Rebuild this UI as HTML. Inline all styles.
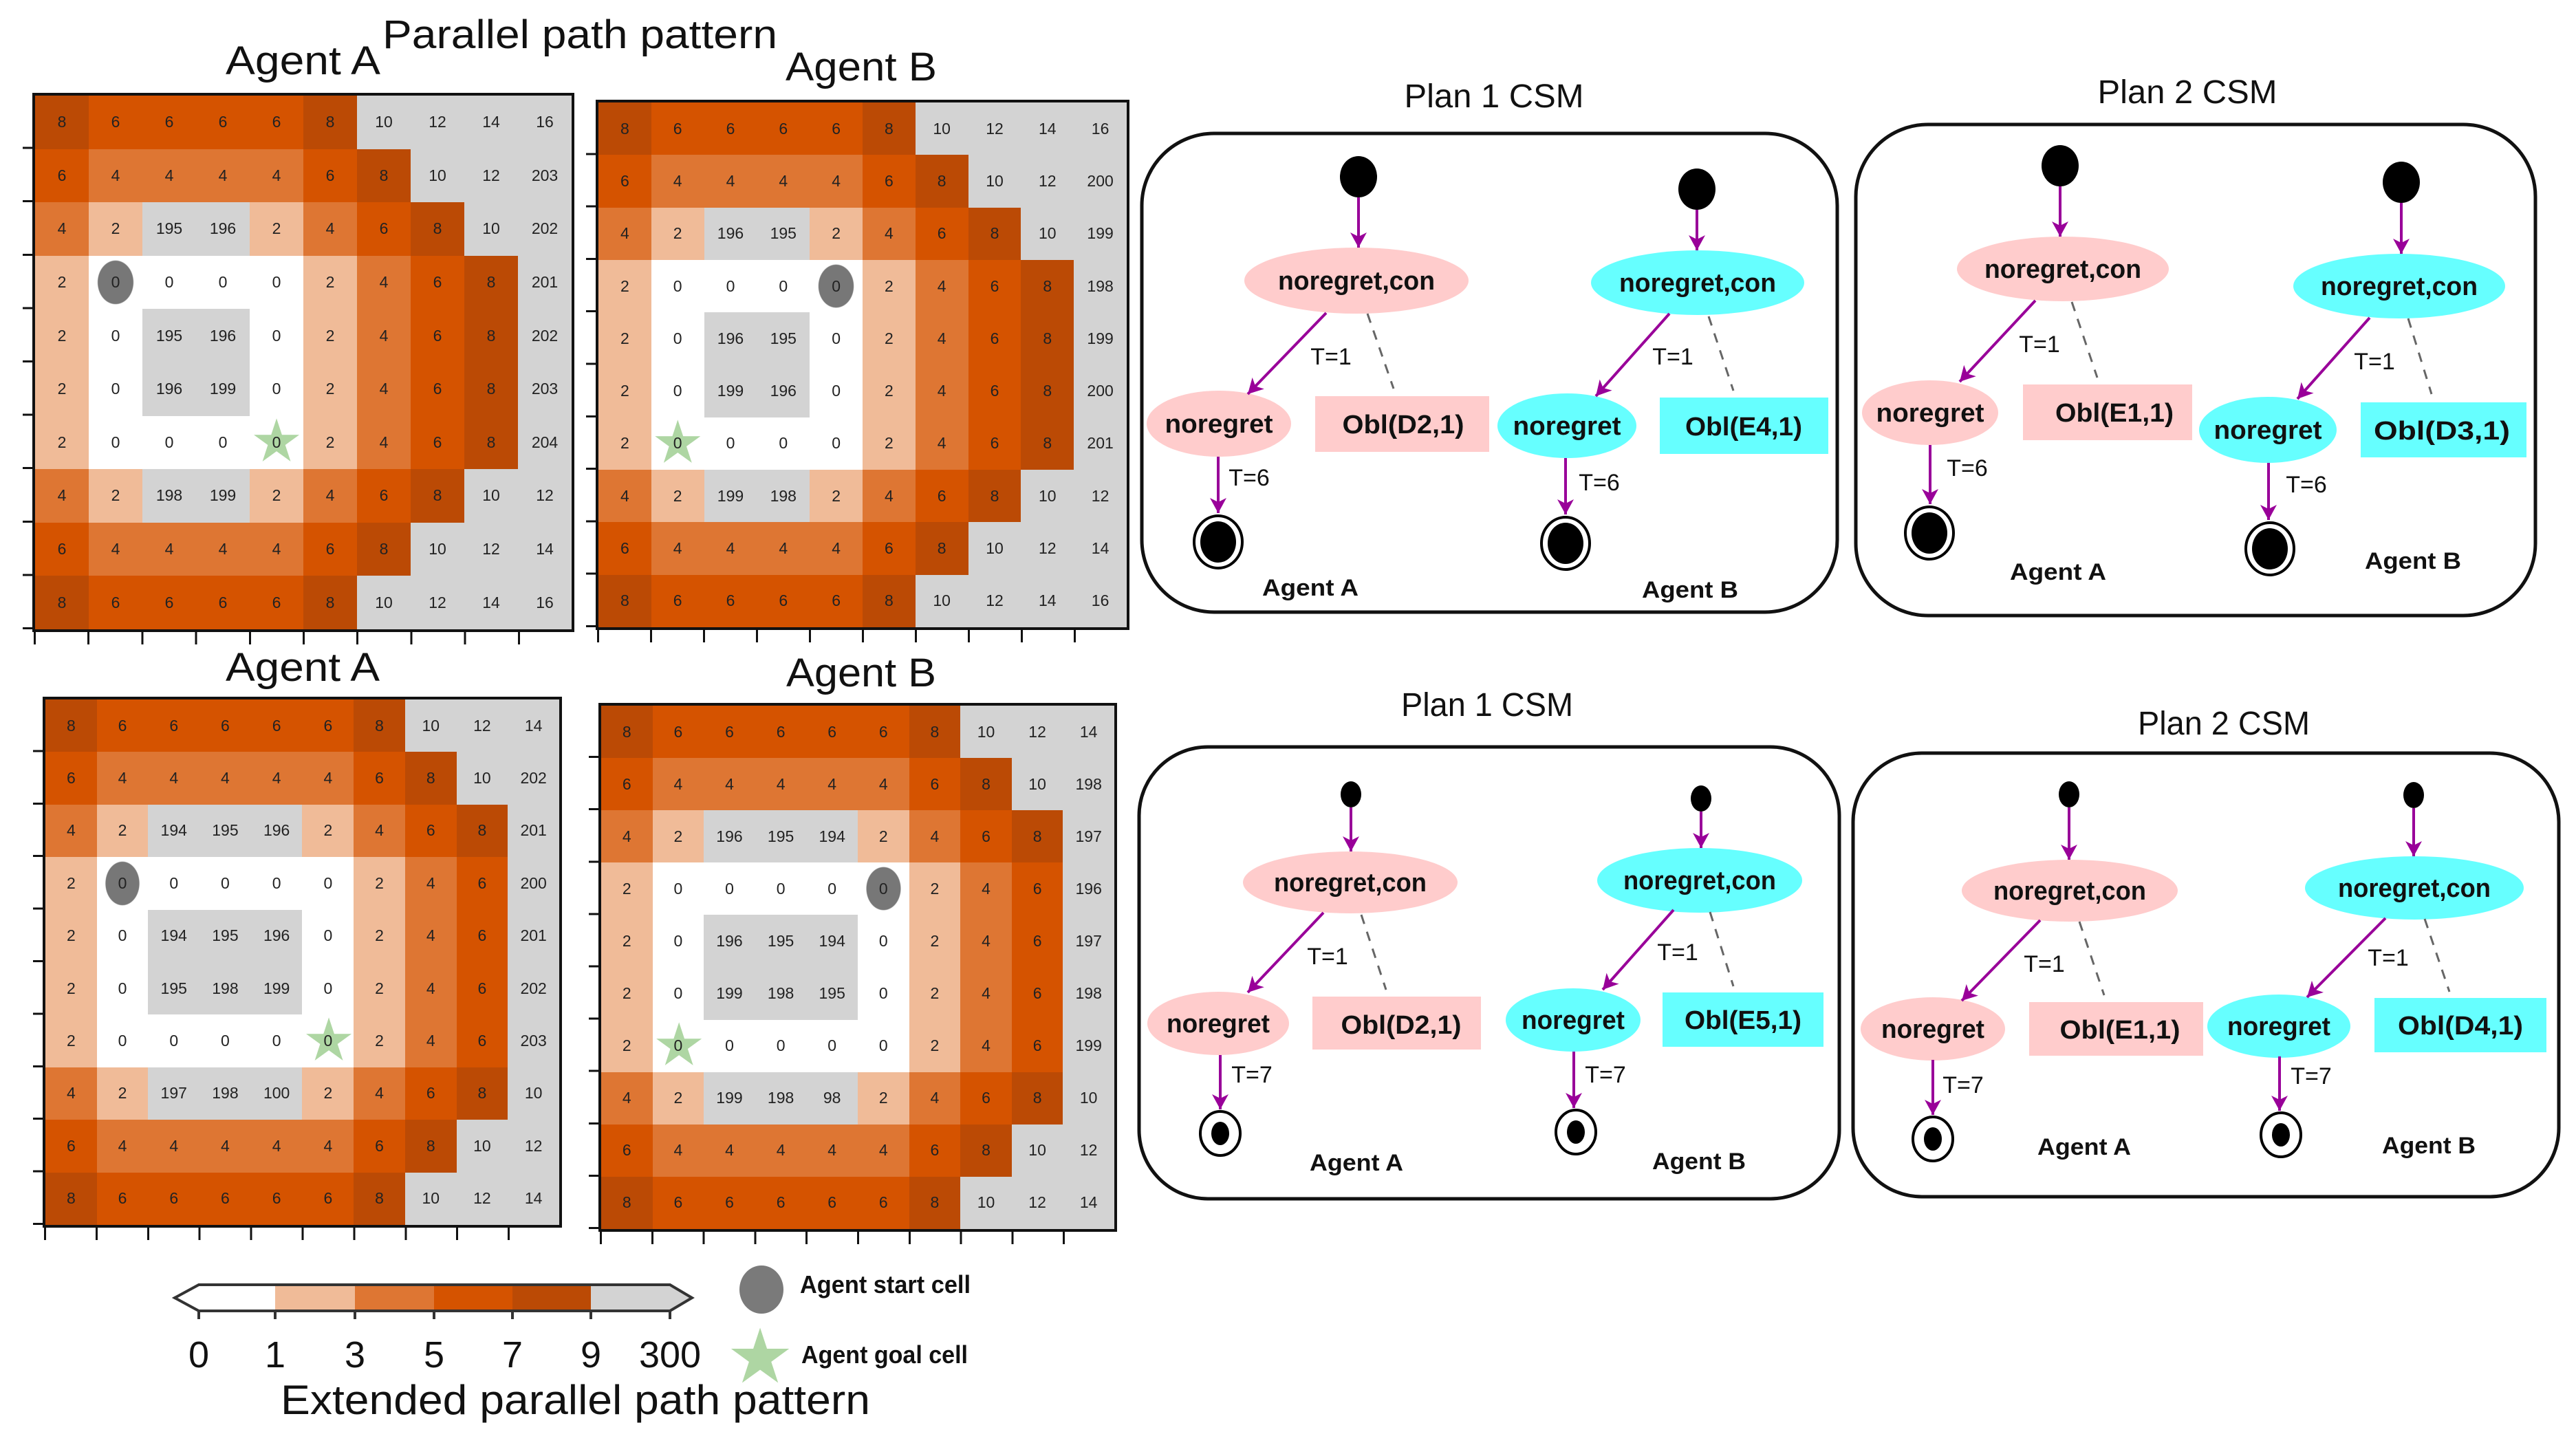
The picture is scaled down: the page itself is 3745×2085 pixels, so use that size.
<!DOCTYPE html>
<html><head><meta charset="utf-8"><style>
html,body{margin:0;padding:0;background:#fff}
body{width:3745px;height:2085px;position:relative;overflow:hidden;font-family:"Liberation Sans",sans-serif}
.g{position:absolute;display:grid;grid-template-columns:repeat(10,1fr);grid-template-rows:repeat(10,1fr);outline:4px solid #111}
.g i{font-style:normal;display:flex;align-items:center;justify-content:center;font-size:23px;color:#222;position:relative;isolation:isolate}
.a{background:#bb4a05}.b{background:#d55300}.c{background:#de7633}.d{background:#f0bb98}.e{background:#fff}.x{background:#d3d3d3}
.s{background:radial-gradient(ellipse 34% 42% at 50% 50%,#777 96%,#fff 100%)}
.t::before{content:"\2605";position:absolute;left:0;right:0;top:50%;transform:translateY(-52%);text-align:center;font-size:86px;line-height:1;color:#aed6a3;z-index:-1;font-family:"DejaVu Sans",sans-serif}
.tl{position:absolute;width:14px;left:-18px;top:0;bottom:0;background:repeating-linear-gradient(to bottom,transparent 0,transparent calc(10% - 3px),#111 calc(10% - 3px),#111 10%)}
.tb{position:absolute;height:18px;left:-2px;right:0;bottom:-22px;background:repeating-linear-gradient(to right,#111 0,#111 3px,transparent 3px,transparent 10%)}
svg{position:absolute;left:0;top:0}
</style></head><body>

<div class="g" style="left:51px;top:139px;width:780px;height:776px">
<i class=a>8</i><i class=b>6</i><i class=b>6</i><i class=b>6</i><i class=b>6</i><i class=a>8</i><i class=x>10</i><i class=x>12</i><i class=x>14</i><i class=x>16</i>
<i class=b>6</i><i class=c>4</i><i class=c>4</i><i class=c>4</i><i class=c>4</i><i class=b>6</i><i class=a>8</i><i class=x>10</i><i class=x>12</i><i class=x>203</i>
<i class=c>4</i><i class=d>2</i><i class=x>195</i><i class=x>196</i><i class=d>2</i><i class=c>4</i><i class=b>6</i><i class=a>8</i><i class=x>10</i><i class=x>202</i>
<i class=d>2</i><i class=s>0</i><i class=e>0</i><i class=e>0</i><i class=e>0</i><i class=d>2</i><i class=c>4</i><i class=b>6</i><i class=a>8</i><i class=x>201</i>
<i class=d>2</i><i class=e>0</i><i class=x>195</i><i class=x>196</i><i class=e>0</i><i class=d>2</i><i class=c>4</i><i class=b>6</i><i class=a>8</i><i class=x>202</i>
<i class=d>2</i><i class=e>0</i><i class=x>196</i><i class=x>199</i><i class=e>0</i><i class=d>2</i><i class=c>4</i><i class=b>6</i><i class=a>8</i><i class=x>203</i>
<i class=d>2</i><i class=e>0</i><i class=e>0</i><i class=e>0</i><i class="e t">0</i><i class=d>2</i><i class=c>4</i><i class=b>6</i><i class=a>8</i><i class=x>204</i>
<i class=c>4</i><i class=d>2</i><i class=x>198</i><i class=x>199</i><i class=d>2</i><i class=c>4</i><i class=b>6</i><i class=a>8</i><i class=x>10</i><i class=x>12</i>
<i class=b>6</i><i class=c>4</i><i class=c>4</i><i class=c>4</i><i class=c>4</i><i class=b>6</i><i class=a>8</i><i class=x>10</i><i class=x>12</i><i class=x>14</i>
<i class=a>8</i><i class=b>6</i><i class=b>6</i><i class=b>6</i><i class=b>6</i><i class=a>8</i><i class=x>10</i><i class=x>12</i><i class=x>14</i><i class=x>16</i>
<span class=tl></span><span class=tb></span></div>

<div class="g" style="left:870px;top:149px;width:768px;height:763px">
<i class=a>8</i><i class=b>6</i><i class=b>6</i><i class=b>6</i><i class=b>6</i><i class=a>8</i><i class=x>10</i><i class=x>12</i><i class=x>14</i><i class=x>16</i>
<i class=b>6</i><i class=c>4</i><i class=c>4</i><i class=c>4</i><i class=c>4</i><i class=b>6</i><i class=a>8</i><i class=x>10</i><i class=x>12</i><i class=x>200</i>
<i class=c>4</i><i class=d>2</i><i class=x>196</i><i class=x>195</i><i class=d>2</i><i class=c>4</i><i class=b>6</i><i class=a>8</i><i class=x>10</i><i class=x>199</i>
<i class=d>2</i><i class=e>0</i><i class=e>0</i><i class=e>0</i><i class=s>0</i><i class=d>2</i><i class=c>4</i><i class=b>6</i><i class=a>8</i><i class=x>198</i>
<i class=d>2</i><i class=e>0</i><i class=x>196</i><i class=x>195</i><i class=e>0</i><i class=d>2</i><i class=c>4</i><i class=b>6</i><i class=a>8</i><i class=x>199</i>
<i class=d>2</i><i class=e>0</i><i class=x>199</i><i class=x>196</i><i class=e>0</i><i class=d>2</i><i class=c>4</i><i class=b>6</i><i class=a>8</i><i class=x>200</i>
<i class=d>2</i><i class="e t">0</i><i class=e>0</i><i class=e>0</i><i class=e>0</i><i class=d>2</i><i class=c>4</i><i class=b>6</i><i class=a>8</i><i class=x>201</i>
<i class=c>4</i><i class=d>2</i><i class=x>199</i><i class=x>198</i><i class=d>2</i><i class=c>4</i><i class=b>6</i><i class=a>8</i><i class=x>10</i><i class=x>12</i>
<i class=b>6</i><i class=c>4</i><i class=c>4</i><i class=c>4</i><i class=c>4</i><i class=b>6</i><i class=a>8</i><i class=x>10</i><i class=x>12</i><i class=x>14</i>
<i class=a>8</i><i class=b>6</i><i class=b>6</i><i class=b>6</i><i class=b>6</i><i class=a>8</i><i class=x>10</i><i class=x>12</i><i class=x>14</i><i class=x>16</i>
<span class=tl></span><span class=tb></span></div>

<div class="g" style="left:66px;top:1017px;width:747px;height:764px">
<i class=a>8</i><i class=b>6</i><i class=b>6</i><i class=b>6</i><i class=b>6</i><i class=b>6</i><i class=a>8</i><i class=x>10</i><i class=x>12</i><i class=x>14</i>
<i class=b>6</i><i class=c>4</i><i class=c>4</i><i class=c>4</i><i class=c>4</i><i class=c>4</i><i class=b>6</i><i class=a>8</i><i class=x>10</i><i class=x>202</i>
<i class=c>4</i><i class=d>2</i><i class=x>194</i><i class=x>195</i><i class=x>196</i><i class=d>2</i><i class=c>4</i><i class=b>6</i><i class=a>8</i><i class=x>201</i>
<i class=d>2</i><i class=s>0</i><i class=e>0</i><i class=e>0</i><i class=e>0</i><i class=e>0</i><i class=d>2</i><i class=c>4</i><i class=b>6</i><i class=x>200</i>
<i class=d>2</i><i class=e>0</i><i class=x>194</i><i class=x>195</i><i class=x>196</i><i class=e>0</i><i class=d>2</i><i class=c>4</i><i class=b>6</i><i class=x>201</i>
<i class=d>2</i><i class=e>0</i><i class=x>195</i><i class=x>198</i><i class=x>199</i><i class=e>0</i><i class=d>2</i><i class=c>4</i><i class=b>6</i><i class=x>202</i>
<i class=d>2</i><i class=e>0</i><i class=e>0</i><i class=e>0</i><i class=e>0</i><i class="e t">0</i><i class=d>2</i><i class=c>4</i><i class=b>6</i><i class=x>203</i>
<i class=c>4</i><i class=d>2</i><i class=x>197</i><i class=x>198</i><i class=x>100</i><i class=d>2</i><i class=c>4</i><i class=b>6</i><i class=a>8</i><i class=x>10</i>
<i class=b>6</i><i class=c>4</i><i class=c>4</i><i class=c>4</i><i class=c>4</i><i class=c>4</i><i class=b>6</i><i class=a>8</i><i class=x>10</i><i class=x>12</i>
<i class=a>8</i><i class=b>6</i><i class=b>6</i><i class=b>6</i><i class=b>6</i><i class=b>6</i><i class=a>8</i><i class=x>10</i><i class=x>12</i><i class=x>14</i>
<span class=tl></span><span class=tb></span></div>

<div class="g" style="left:874px;top:1026px;width:746px;height:761px">
<i class=a>8</i><i class=b>6</i><i class=b>6</i><i class=b>6</i><i class=b>6</i><i class=b>6</i><i class=a>8</i><i class=x>10</i><i class=x>12</i><i class=x>14</i>
<i class=b>6</i><i class=c>4</i><i class=c>4</i><i class=c>4</i><i class=c>4</i><i class=c>4</i><i class=b>6</i><i class=a>8</i><i class=x>10</i><i class=x>198</i>
<i class=c>4</i><i class=d>2</i><i class=x>196</i><i class=x>195</i><i class=x>194</i><i class=d>2</i><i class=c>4</i><i class=b>6</i><i class=a>8</i><i class=x>197</i>
<i class=d>2</i><i class=e>0</i><i class=e>0</i><i class=e>0</i><i class=e>0</i><i class=s>0</i><i class=d>2</i><i class=c>4</i><i class=b>6</i><i class=x>196</i>
<i class=d>2</i><i class=e>0</i><i class=x>196</i><i class=x>195</i><i class=x>194</i><i class=e>0</i><i class=d>2</i><i class=c>4</i><i class=b>6</i><i class=x>197</i>
<i class=d>2</i><i class=e>0</i><i class=x>199</i><i class=x>198</i><i class=x>195</i><i class=e>0</i><i class=d>2</i><i class=c>4</i><i class=b>6</i><i class=x>198</i>
<i class=d>2</i><i class="e t">0</i><i class=e>0</i><i class=e>0</i><i class=e>0</i><i class=e>0</i><i class=d>2</i><i class=c>4</i><i class=b>6</i><i class=x>199</i>
<i class=c>4</i><i class=d>2</i><i class=x>199</i><i class=x>198</i><i class=x>98</i><i class=d>2</i><i class=c>4</i><i class=b>6</i><i class=a>8</i><i class=x>10</i>
<i class=b>6</i><i class=c>4</i><i class=c>4</i><i class=c>4</i><i class=c>4</i><i class=c>4</i><i class=b>6</i><i class=a>8</i><i class=x>10</i><i class=x>12</i>
<i class=a>8</i><i class=b>6</i><i class=b>6</i><i class=b>6</i><i class=b>6</i><i class=b>6</i><i class=a>8</i><i class=x>10</i><i class=x>12</i><i class=x>14</i>
<span class=tl></span><span class=tb></span></div>

<svg width="3745" height="2085" viewBox="0 0 3745 2085" style="pointer-events:none">
<defs>
<marker id="ar" markerUnits="userSpaceOnUse" markerWidth="22" markerHeight="26" refX="22" refY="13" orient="auto">
<path d="M0,1 L22,13 L0,25 L6,13 z" fill="#990099"/></marker>
</defs>
<g font-family="Liberation Sans, sans-serif" fill="#111">
<text x="556" y="70" font-size="58" textLength="574" lengthAdjust="spacingAndGlyphs">Parallel path pattern</text>
<text x="328" y="108" font-size="58" textLength="225" lengthAdjust="spacingAndGlyphs">Agent A</text>
<text x="1142" y="117" font-size="58" textLength="220" lengthAdjust="spacingAndGlyphs">Agent B</text>
<text x="328" y="990" font-size="58" textLength="224" lengthAdjust="spacingAndGlyphs">Agent A</text>
<text x="1143" y="998" font-size="58" textLength="218" lengthAdjust="spacingAndGlyphs">Agent B</text>
<text x="408" y="2056" font-size="60" textLength="857" lengthAdjust="spacingAndGlyphs">Extended parallel path pattern</text>
</g>
<!-- colorbar -->
<g>
<path d="M289,1868 L400,1868 L400,1906 L289,1906 L254,1887 z" fill="#fff"/>
<rect x="400" y="1868" width="116" height="38" fill="#f0bb98"/>
<rect x="516" y="1868" width="115" height="38" fill="#de7633"/>
<rect x="631" y="1868" width="114" height="38" fill="#d55300"/>
<rect x="745" y="1868" width="114" height="38" fill="#bb4a05"/>
<path d="M859,1868 L974,1868 L1006,1887 L974,1906 L859,1906 z" fill="#d3d3d3"/>
<path d="M289,1868 L974,1868 L1006,1887 L974,1906 L289,1906 L254,1887 z" fill="none" stroke="#333" stroke-width="4"/>
<g stroke="#333" stroke-width="4"><line x1="289" y1="1906" x2="289" y2="1918"/><line x1="400" y1="1906" x2="400" y2="1918"/><line x1="516" y1="1906" x2="516" y2="1918"/><line x1="631" y1="1906" x2="631" y2="1918"/><line x1="745" y1="1906" x2="745" y2="1918"/><line x1="859" y1="1906" x2="859" y2="1918"/><line x1="974" y1="1906" x2="974" y2="1918"/></g>
<g font-family="Liberation Sans, sans-serif" font-size="54" fill="#111" text-anchor="middle">
<text x="289" y="1988">0</text><text x="400" y="1988">1</text><text x="516" y="1988">3</text><text x="631" y="1988">5</text><text x="745" y="1988">7</text><text x="859" y="1988">9</text><text x="974" y="1988">300</text></g>
<ellipse cx="1107" cy="1875" rx="32" ry="35" fill="#7a7a7a"/>
<text x="1105" y="2010" font-size="110" text-anchor="middle" fill="#aed6a3" font-family="DejaVu Sans, sans-serif">★</text>
<g font-family="Liberation Sans, sans-serif" font-weight="bold" font-size="36" fill="#111">
<text x="1163" y="1880" textLength="248" lengthAdjust="spacingAndGlyphs">Agent start cell</text>
<text x="1165" y="1982" textLength="242" lengthAdjust="spacingAndGlyphs">Agent goal cell</text></g>
</g>

<!-- CSM panels -->
<g font-family="Liberation Sans, sans-serif" fill="#111">
<text x="2172" y="156" font-size="48" text-anchor="middle" textLength="261" lengthAdjust="spacingAndGlyphs">Plan 1 CSM</text>
<text x="3180" y="150" font-size="48" text-anchor="middle" textLength="261" lengthAdjust="spacingAndGlyphs">Plan 2 CSM</text>
<text x="2162" y="1041" font-size="48" text-anchor="middle" textLength="250" lengthAdjust="spacingAndGlyphs">Plan 1 CSM</text>
<text x="3233" y="1068" font-size="48" text-anchor="middle" textLength="250" lengthAdjust="spacingAndGlyphs">Plan 2 CSM</text>
</g>
<g fill="none" stroke="#111" stroke-width="5">
<rect x="1660" y="194" width="1011" height="696" rx="105"/>
<rect x="2698" y="181" width="988" height="714" rx="105"/>
<rect x="1656" y="1086" width="1018" height="657" rx="100"/>
<rect x="2694" y="1095" width="1026" height="645" rx="100"/>
</g>

<!-- nodes -->
<g>
<!-- top box1 -->
<ellipse cx="1972" cy="408" rx="163" ry="48" fill="#ffcccc"/>
<ellipse cx="2468" cy="411" rx="155" ry="47" fill="#66ffff"/>
<ellipse cx="1772" cy="616" rx="105" ry="48" fill="#ffcccc"/>
<rect x="1912" y="576" width="253" height="81" fill="#ffcccc"/>
<ellipse cx="2278" cy="619" rx="101" ry="47" fill="#66ffff"/>
<rect x="2413" y="578" width="245" height="82" fill="#66ffff"/>
<!-- top box2 -->
<ellipse cx="2999" cy="391" rx="154" ry="47" fill="#ffcccc"/>
<ellipse cx="3488" cy="416" rx="154" ry="47" fill="#66ffff"/>
<ellipse cx="2806" cy="600" rx="99" ry="47" fill="#ffcccc"/>
<rect x="2941" y="559" width="246" height="81" fill="#ffcccc"/>
<ellipse cx="3297" cy="625" rx="100" ry="48" fill="#66ffff"/>
<rect x="3432" y="585" width="241" height="80" fill="#66ffff"/>
<!-- bottom box1 -->
<ellipse cx="1963" cy="1283" rx="156" ry="45" fill="#ffcccc"/>
<ellipse cx="2471" cy="1280" rx="149" ry="47" fill="#66ffff"/>
<ellipse cx="1771" cy="1488" rx="103" ry="46" fill="#ffcccc"/>
<rect x="1908" y="1449" width="245" height="77" fill="#ffcccc"/>
<ellipse cx="2287" cy="1483" rx="98" ry="46" fill="#66ffff"/>
<rect x="2417" y="1443" width="234" height="79" fill="#66ffff"/>
<!-- bottom box2 -->
<ellipse cx="3009" cy="1295" rx="157" ry="45" fill="#ffcccc"/>
<ellipse cx="3510" cy="1291" rx="159" ry="46" fill="#66ffff"/>
<ellipse cx="2810" cy="1496" rx="105" ry="46" fill="#ffcccc"/>
<rect x="2950" y="1457" width="253" height="78" fill="#ffcccc"/>
<ellipse cx="3313" cy="1492" rx="104" ry="46" fill="#66ffff"/>
<rect x="3452" y="1451" width="250" height="79" fill="#66ffff"/>
</g>

<!-- initial dots -->
<g fill="#000">
<ellipse cx="1975" cy="257" rx="27" ry="30"/><ellipse cx="2467" cy="275" rx="27" ry="30"/>
<ellipse cx="2995" cy="241" rx="27" ry="30"/><ellipse cx="3491" cy="265" rx="27" ry="30"/>
<ellipse cx="1964" cy="1155" rx="15" ry="19"/><ellipse cx="2473" cy="1161" rx="15" ry="19"/>
<ellipse cx="3008" cy="1155" rx="15" ry="19"/><ellipse cx="3509" cy="1156" rx="15" ry="19"/>
</g>
<!-- final states -->
<g fill="#fff" stroke="#000" stroke-width="4">
<ellipse cx="1771" cy="788" rx="35" ry="38"/><ellipse cx="2276" cy="790" rx="35" ry="38"/>
<ellipse cx="2805" cy="775" rx="35" ry="38"/><ellipse cx="3300" cy="798" rx="35" ry="38"/>
<ellipse cx="1774" cy="1648" rx="29" ry="32"/><ellipse cx="2291" cy="1646" rx="29" ry="32"/>
<ellipse cx="2810" cy="1656" rx="29" ry="32"/><ellipse cx="3316" cy="1650" rx="29" ry="32"/>
</g>
<g fill="#000">
<ellipse cx="1771" cy="788" rx="26" ry="30"/><ellipse cx="2276" cy="790" rx="26" ry="30"/>
<ellipse cx="2805" cy="775" rx="26" ry="30"/><ellipse cx="3300" cy="798" rx="26" ry="30"/>
<ellipse cx="1774" cy="1648" rx="13" ry="17"/><ellipse cx="2291" cy="1646" rx="13" ry="17"/>
<ellipse cx="2810" cy="1656" rx="13" ry="17"/><ellipse cx="3316" cy="1650" rx="13" ry="17"/>
</g>

<!-- arrows -->
<g stroke="#990099" stroke-width="4" fill="none" marker-end="url(#ar)">
<line x1="1975" y1="287" x2="1975" y2="360"/><line x1="2467" y1="305" x2="2467" y2="364"/>
<line x1="1928" y1="455" x2="1814" y2="573"/><line x1="2427" y1="456" x2="2320" y2="576"/>
<line x1="1771" y1="664" x2="1771" y2="746"/><line x1="2276" y1="666" x2="2276" y2="748"/>
<line x1="2995" y1="271" x2="2995" y2="344"/><line x1="3491" y1="295" x2="3491" y2="369"/>
<line x1="2959" y1="437" x2="2849" y2="555"/><line x1="3445" y1="462" x2="3340" y2="580"/>
<line x1="2806" y1="647" x2="2806" y2="733"/><line x1="3298" y1="673" x2="3298" y2="756"/>
<line x1="1964" y1="1174" x2="1964" y2="1238"/><line x1="2473" y1="1180" x2="2473" y2="1233"/>
<line x1="1924" y1="1327" x2="1814" y2="1443"/><line x1="2433" y1="1323" x2="2330" y2="1439"/>
<line x1="1774" y1="1534" x2="1774" y2="1613"/><line x1="2288" y1="1529" x2="2288" y2="1611"/>
<line x1="3008" y1="1174" x2="3008" y2="1250"/><line x1="3509" y1="1175" x2="3509" y2="1245"/>
<line x1="2966" y1="1338" x2="2852" y2="1455"/><line x1="3468" y1="1335" x2="3354" y2="1450"/>
<line x1="2810" y1="1541" x2="2810" y2="1621"/><line x1="3314" y1="1536" x2="3314" y2="1615"/>
</g>
<!-- dashed -->
<g stroke="#666" stroke-width="3" stroke-dasharray="14,12" fill="none">
<line x1="1988" y1="456" x2="2026" y2="565"/><line x1="2484" y1="460" x2="2520" y2="568"/>
<line x1="3012" y1="439" x2="3049" y2="549"/><line x1="3501" y1="463" x2="3535" y2="573"/>
<line x1="1979" y1="1330" x2="2015" y2="1439"/><line x1="2486" y1="1326" x2="2520" y2="1434"/>
<line x1="3023" y1="1340" x2="3059" y2="1447"/><line x1="3525" y1="1336" x2="3561" y2="1442"/>
</g>

<!-- node labels -->
<g font-family="Liberation Sans, sans-serif" font-weight="bold" font-size="38" fill="#111" text-anchor="middle" lengthAdjust="spacingAndGlyphs">
<text x="1972" y="421" textLength="228" lengthAdjust="spacingAndGlyphs">noregret,con</text>
<text x="2468" y="424" textLength="228" lengthAdjust="spacingAndGlyphs">noregret,con</text>
<text x="1772" y="629" textLength="157" lengthAdjust="spacingAndGlyphs">noregret</text>
<text x="2040" y="630" textLength="177" lengthAdjust="spacingAndGlyphs">Obl(D2,1)</text>
<text x="2278" y="632" textLength="157" lengthAdjust="spacingAndGlyphs">noregret</text>
<text x="2535" y="633" textLength="170" lengthAdjust="spacingAndGlyphs">Obl(E4,1)</text>
<text x="2999" y="404" textLength="228" lengthAdjust="spacingAndGlyphs">noregret,con</text>
<text x="3488" y="429" textLength="228" lengthAdjust="spacingAndGlyphs">noregret,con</text>
<text x="2806" y="613" textLength="157" lengthAdjust="spacingAndGlyphs">noregret</text>
<text x="3074" y="613" textLength="172" lengthAdjust="spacingAndGlyphs">Obl(E1,1)</text>
<text x="3297" y="638" textLength="157" lengthAdjust="spacingAndGlyphs">noregret</text>
<text x="3550" y="639" textLength="198" lengthAdjust="spacingAndGlyphs">Obl(D3,1)</text>
<text x="1963" y="1296" textLength="222" lengthAdjust="spacingAndGlyphs">noregret,con</text>
<text x="2471" y="1293" textLength="222" lengthAdjust="spacingAndGlyphs">noregret,con</text>
<text x="1771" y="1501" textLength="150" lengthAdjust="spacingAndGlyphs">noregret</text>
<text x="2037" y="1503" textLength="175" lengthAdjust="spacingAndGlyphs">Obl(D2,1)</text>
<text x="2287" y="1496" textLength="150" lengthAdjust="spacingAndGlyphs">noregret</text>
<text x="2534" y="1496" textLength="170" lengthAdjust="spacingAndGlyphs">Obl(E5,1)</text>
<text x="3009" y="1308" textLength="222" lengthAdjust="spacingAndGlyphs">noregret,con</text>
<text x="3510" y="1304" textLength="222" lengthAdjust="spacingAndGlyphs">noregret,con</text>
<text x="2810" y="1509" textLength="150" lengthAdjust="spacingAndGlyphs">noregret</text>
<text x="3082" y="1510" textLength="175" lengthAdjust="spacingAndGlyphs">Obl(E1,1)</text>
<text x="3313" y="1505" textLength="150" lengthAdjust="spacingAndGlyphs">noregret</text>
<text x="3577" y="1504" textLength="182" lengthAdjust="spacingAndGlyphs">Obl(D4,1)</text>
</g>
<!-- T labels -->
<g font-family="Liberation Sans, sans-serif" font-size="34" fill="#111" text-anchor="middle">
<text x="1935" y="530">T=1</text><text x="2432" y="530">T=1</text>
<text x="1816" y="706">T=6</text><text x="2325" y="713">T=6</text>
<text x="2965" y="512">T=1</text><text x="3452" y="537">T=1</text>
<text x="2860" y="692">T=6</text><text x="3353" y="716">T=6</text>
<text x="1930" y="1402">T=1</text><text x="2439" y="1396">T=1</text>
<text x="1820" y="1574">T=7</text><text x="2334" y="1574">T=7</text>
<text x="2972" y="1413">T=1</text><text x="3472" y="1404">T=1</text>
<text x="2854" y="1589">T=7</text><text x="3360" y="1576">T=7</text>
</g>
<!-- agent labels -->
<g font-family="Liberation Sans, sans-serif" font-weight="bold" font-size="34" fill="#111" text-anchor="middle">
<text x="1905" y="866" textLength="140" lengthAdjust="spacingAndGlyphs">Agent A</text>
<text x="2457" y="869" textLength="140" lengthAdjust="spacingAndGlyphs">Agent B</text>
<text x="2992" y="843" textLength="140" lengthAdjust="spacingAndGlyphs">Agent A</text>
<text x="3508" y="827" textLength="140" lengthAdjust="spacingAndGlyphs">Agent B</text>
<text x="1972" y="1702" textLength="136" lengthAdjust="spacingAndGlyphs">Agent A</text>
<text x="2470" y="1700" textLength="136" lengthAdjust="spacingAndGlyphs">Agent B</text>
<text x="3030" y="1679" textLength="136" lengthAdjust="spacingAndGlyphs">Agent A</text>
<text x="3531" y="1677" textLength="136" lengthAdjust="spacingAndGlyphs">Agent B</text>
</g>
</svg>
</body></html>
